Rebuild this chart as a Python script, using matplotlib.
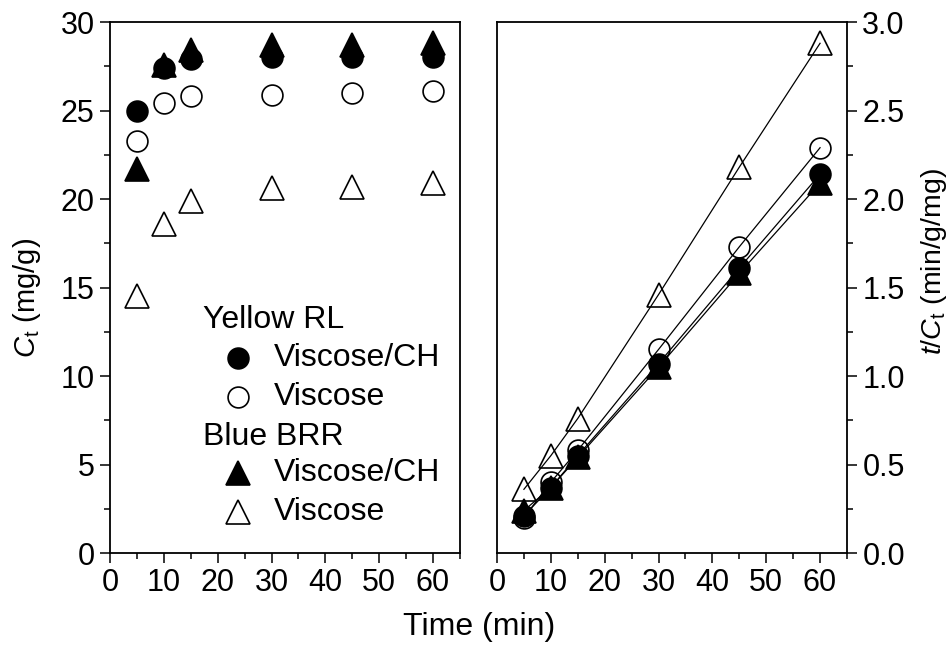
import matplotlib
matplotlib.use("Agg")
from matplotlib import pyplot as plt
from matplotlib.ticker import MultipleLocator, FormatStrFormatter

plt.rcParams['font.family'] = ['Liberation Sans', 'DejaVu Sans']
plt.rcParams['mathtext.fontset'] = 'custom'
plt.rcParams['mathtext.rm'] = 'Liberation Sans'
plt.rcParams['mathtext.it'] = 'Liberation Sans:italic'

time = [5, 10, 15, 30, 45, 60]

# adsorbed amount Ct (mg/g)
ct_yellow_ch = [25.0, 27.4, 27.9, 28.0, 28.0, 28.0]
ct_yellow_v = [23.3, 25.4, 25.8, 25.9, 26.0, 26.1]
ct_blue_ch = [21.7, 27.6, 28.4, 28.7, 28.7, 28.8]
ct_blue_v = [14.5, 18.6, 19.9, 20.6, 20.7, 20.9]

# t/Ct (min g/mg)
tc_yellow_ch = [0.21, 0.37, 0.55, 1.07, 1.61, 2.14]
tc_yellow_v = [0.20, 0.40, 0.58, 1.15, 1.73, 2.29]
tc_blue_ch = [0.24, 0.37, 0.54, 1.05, 1.58, 2.09]
tc_blue_v = [0.36, 0.55, 0.76, 1.46, 2.18, 2.88]

series = [
    ('o', 'none', ct_yellow_v, tc_yellow_v),
    ('o', 'black', ct_yellow_ch, tc_yellow_ch),
    ('^', 'none', ct_blue_v, tc_blue_v),
    ('^', 'black', ct_blue_ch, tc_blue_ch),
]

fig = plt.figure(figsize=(9.49, 6.5), dpi=100)
ax1 = fig.add_axes([0.1159, 0.1492, 0.3688, 0.8169])
ax2 = fig.add_axes([0.5237, 0.1492, 0.3688, 0.8169])

for m, fc, ct, tc in series:
    ms = 15 if m == 'o' else 17
    ax1.plot(time, ct, linestyle='none', marker=m, ms=ms, mfc=fc, mec='black', mew=1.2)
    ax2.plot(time, tc, color='black', lw=0.9, marker=m, ms=ms, mfc=fc, mec='black', mew=1.2)

for ax in (ax1, ax2):
    ax.set_xlim(0, 65)
    ax.xaxis.set_major_locator(MultipleLocator(10))
    ax.xaxis.set_minor_locator(MultipleLocator(5))
    for s in ax.spines.values():
        s.set_linewidth(1.3)
    ax.tick_params(which='both', direction='out', width=1.1, labelsize=22, pad=4)
    ax.tick_params(which='major', length=7)
    ax.tick_params(which='minor', length=4)

ax1.set_ylim(0, 30)
ax1.yaxis.set_major_locator(MultipleLocator(5))
ax1.yaxis.set_minor_locator(MultipleLocator(2.5))
ax1.set_ylabel(r'$\mathit{C}_\mathrm{t}$ (mg/g)', fontsize=21)
ax1.yaxis.set_label_coords(-0.19, 0.48)

ax2.set_ylim(0, 3.0)
ax2.yaxis.set_major_locator(MultipleLocator(0.5))
ax2.yaxis.set_minor_locator(MultipleLocator(0.25))
ax2.yaxis.set_major_formatter(FormatStrFormatter('%.1f'))
ax2.yaxis.tick_right()
ax2.yaxis.set_label_position('right')
ax2.set_ylabel(r'$\mathit{t/C}_\mathrm{t}$ (min/g/mg)', fontsize=20.5)
ax2.yaxis.set_label_coords(1.205, 0.55)

fig.text(0.505, 0.035, 'Time (min)', ha='center', va='center', fontsize=23)

# legend drawn by hand in the left panel
rows = [
    ('Yellow RL', None, None, 0.439),
    ('Viscose/CH', 'o', 'black', 0.367),
    ('Viscose', 'o', 'none', 0.294),
    ('Blue BRR', None, None, 0.218),
    ('Viscose/CH', '^', 'black', 0.150),
    ('Viscose', '^', 'none', 0.077),
]
for label, m, fc, y in rows:
    if m is None:
        ax1.text(0.266, y, label, transform=ax1.transAxes, fontsize=23, va='center', ha='left')
    else:
        ms = 15 if m == 'o' else 17
        ax1.plot([0.366], [y], transform=ax1.transAxes, marker=m, ms=ms, mfc=fc,
                 mec='black', mew=1.2, linestyle='none', clip_on=False)
        ax1.text(0.469, y, label, transform=ax1.transAxes, fontsize=23, va='center', ha='left')

fig.savefig('out.png', dpi=100)
